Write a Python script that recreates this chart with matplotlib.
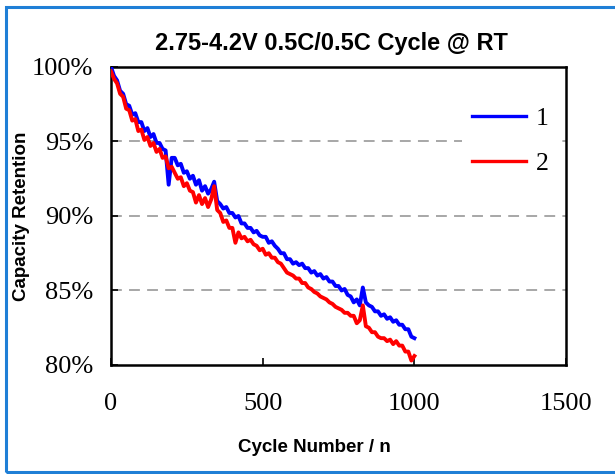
import matplotlib.pyplot as plt
from matplotlib.patches import Rectangle

# cycle number every 10 cycles
cycles = list(range(0, 1010, 10))

cell1 = [100.0, 99.4, 99.1, 98.4, 98.2, 97.5, 97.4, 96.8, 96.9, 96.3,
         96.3, 95.7, 95.9, 95.3, 95.5, 94.9, 94.9, 94.5, 94.4, 92.1,
         93.9, 93.9, 93.4, 93.5, 92.9, 93.0, 92.5, 92.7, 92.1, 92.4,
         91.7, 92.0, 91.5, 91.8, 92.3, 91.0, 90.8, 90.5, 90.6, 90.2,
         90.2, 89.9, 90.0, 89.5, 89.5, 89.2, 89.2, 88.9, 89.0, 88.7,
         88.6, 88.6, 88.2, 88.3, 88.0, 87.8, 87.5, 87.5, 87.1, 87.1,
         86.8, 86.9, 86.7, 86.8, 86.5, 86.5, 86.2, 86.3, 86.0, 86.1,
         85.8, 85.9, 85.6, 85.6, 85.3, 85.3, 85.0, 85.1, 84.7, 84.6,
         84.2, 84.4, 84.0, 85.2, 84.2, 84.0, 83.9, 83.6, 83.6, 83.3,
         83.4, 83.1, 83.2, 82.9, 83.0, 82.7, 82.7, 82.4, 82.4, 81.9,
         81.8]

cell2 = [99.7, 99.2, 98.9, 98.2, 98.0, 97.2, 97.1, 96.4, 96.5, 95.7,
         95.8, 95.1, 95.3, 94.7, 94.9, 94.3, 94.5, 93.9, 94.0, 93.2,
         93.3, 92.9, 92.5, 92.6, 92.0, 92.2, 91.7, 91.6, 90.9, 91.4,
         90.8, 91.2, 90.6, 91.1, 92.0, 90.4, 90.2, 89.6, 89.7, 89.2,
         89.2, 88.2, 88.9, 88.5, 88.6, 88.3, 88.4, 88.1, 88.0, 87.7,
         87.8, 87.4, 87.5, 87.2, 87.2, 86.9, 86.8, 86.5, 86.2, 86.1,
         86.0, 85.8, 85.8, 85.5, 85.5, 85.2, 85.1, 84.9, 84.8, 84.6,
         84.5, 84.4, 84.2, 84.1, 83.9, 83.8, 83.7, 83.5, 83.5, 83.3,
         83.3, 82.8, 83.0, 84.0, 82.6, 82.5, 82.2, 82.2, 81.9, 81.8,
         81.8, 81.6, 81.7, 81.4, 81.6, 81.3, 81.3, 80.9, 80.9, 80.3,
         80.6]

xticks = [0, 500, 1000, 1500]
yticks = [80, 85, 90, 95, 100]

fig = plt.figure(figsize=(6.15, 4.74), dpi=100)
ax = fig.add_axes([0.1805, 0.230, 0.740, 0.6287])

# blue frame round the figure
fig.patches.append(Rectangle((6/615, 2/474), 1.0, 465/474, transform=fig.transFigure,
                             fill=False, edgecolor='#1f7fd6', linewidth=2.2, zorder=0))

for yv in [85, 90, 95]:
    ax.axhline(yv, color='#a0a0a0', linestyle=(0, (6, 4)), linewidth=1.3, zorder=1)

ax.plot(cycles, cell1, color='#0000ff', linewidth=2.8, label='1', zorder=3)
ax.plot(cycles, cell2, color='#ff0000', linewidth=2.8, label='2', zorder=4)

ax.set_xlim(0, 1500)
ax.set_ylim(80, 100)
ax.set_xticks(xticks)
ax.set_yticks(yticks)
ax.set_yticklabels([f'{v}%' for v in yticks])
ax.tick_params(direction='in', length=5, width=1.2, labelsize=19)
ax.tick_params(axis='x', pad=20)
ax.tick_params(axis='y', pad=13)
for lab in ax.get_xticklabels() + ax.get_yticklabels():
    lab.set_family('Liberation Serif')
for s in ax.spines.values():
    s.set_linewidth(1.8)

ax.set_title('2.75-4.2V 0.5C/0.5C Cycle @ RT', fontsize=17, fontweight='bold',
             family='Liberation Sans', pad=12, x=0.4835)
ax.set_xlabel('Cycle Number / n', fontsize=13.5, fontweight='bold',
              family='Liberation Sans')
ax.xaxis.set_label_coords(0.446, -0.25)
ax.set_ylabel('Capacity Retention', fontsize=13.5, fontweight='bold',
              family='Liberation Sans')
ax.yaxis.set_label_coords(-0.178, 0.5)

leg = ax.legend(loc='upper right', bbox_to_anchor=(0.985, 0.90), borderaxespad=0,
                frameon=True, edgecolor='none', facecolor='white', framealpha=1,
                handlelength=2.1, handletextpad=0.4, labelspacing=0.85,
                prop={'family': 'Liberation Serif', 'size': 18.5})
for ln in leg.get_lines():
    ln.set_linewidth(2.4)

fig.savefig('out.png', dpi=100)
